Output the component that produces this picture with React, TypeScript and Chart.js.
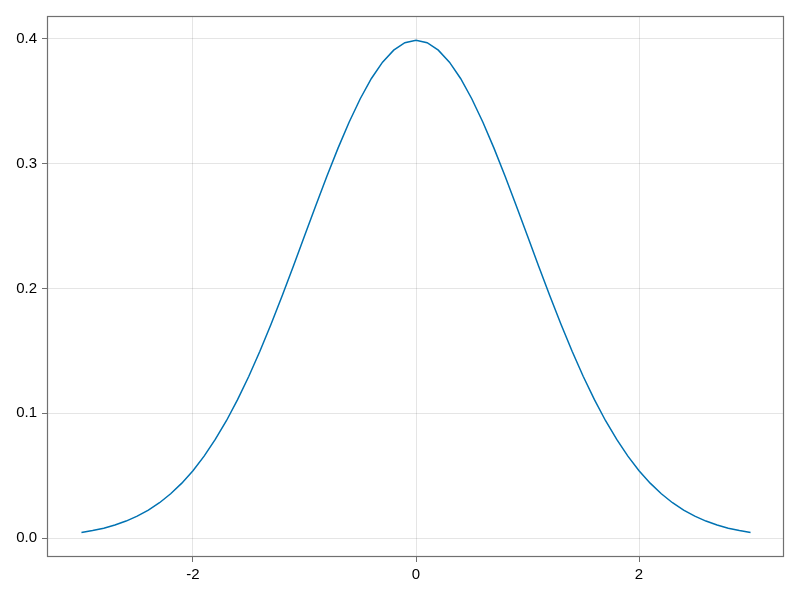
import React, { useEffect, useRef } from "react";
import { Chart, registerables } from "chart.js";

Chart.register(...registerables);

const xValues = [
  -3.0, -2.9, -2.8, -2.7, -2.6, -2.5, -2.4, -2.3, -2.2, -2.1,
  -2.0, -1.9, -1.8, -1.7, -1.6, -1.5, -1.4, -1.3, -1.2, -1.1,
  -1.0, -0.9, -0.8, -0.7, -0.6, -0.5, -0.4, -0.3, -0.2, -0.1,
  0.0,
  0.1, 0.2, 0.3, 0.4, 0.5, 0.6, 0.7, 0.8, 0.9, 1.0,
  1.1, 1.2, 1.3, 1.4, 1.5, 1.6, 1.7, 1.8, 1.9, 2.0,
  2.1, 2.2, 2.3, 2.4, 2.5, 2.6, 2.7, 2.8, 2.9, 3.0,
];

const yValues = [
  0.0044, 0.006, 0.0079, 0.0104, 0.0136, 0.0175, 0.0224, 0.0283, 0.0355, 0.044,
  0.054, 0.0656, 0.079, 0.094, 0.1109, 0.1295, 0.1497, 0.1714, 0.1942, 0.2179,
  0.242, 0.2661, 0.2897, 0.3123, 0.3332, 0.3521, 0.3683, 0.3814, 0.391, 0.397,
  0.3989,
  0.397, 0.391, 0.3814, 0.3683, 0.3521, 0.3332, 0.3123, 0.2897, 0.2661, 0.242,
  0.2179, 0.1942, 0.1714, 0.1497, 0.1295, 0.1109, 0.094, 0.079, 0.0656, 0.054,
  0.044, 0.0355, 0.0283, 0.0224, 0.0175, 0.0136, 0.0104, 0.0079, 0.006, 0.0044,
];

const xTicks = [-2, 0, 2];
const xTickLabels = ["-2", "0", "2"];
const yTicks = [0, 0.1, 0.2, 0.3, 0.4];
const yTickLabels = ["0.0", "0.1", "0.2", "0.3", "0.4"];

const FONT = { family: "'Liberation Sans', Arial, Helvetica, sans-serif", size: 15 };
const FRAME = "#707070";
const GRID = "rgba(0,0,0,0.1)";

const framePlugin = {
  id: "frame",
  afterDraw(chart: any) {
    const { ctx, chartArea } = chart;
    ctx.save();
    ctx.strokeStyle = FRAME;
    ctx.lineWidth = 1.2;
    ctx.strokeRect(
      Math.round(chartArea.left) - 0.5,
      Math.round(chartArea.top) + 0.5,
      Math.round(chartArea.right - chartArea.left),
      Math.round(chartArea.bottom - chartArea.top)
    );
    ctx.restore();
  },
};

export default function App() {
  const ref = useRef<HTMLCanvasElement | null>(null);

  useEffect(() => {
    if (!ref.current) return;
    const chart = new Chart(ref.current, {
      type: "line",
      data: {
        datasets: [
          {
            data: xValues.map((x, i) => ({ x, y: yValues[i] })),
            borderColor: "rgb(0,114,178)",
            borderWidth: 1.5,
            pointRadius: 0,
            tension: 0,
            fill: false,
          },
        ],
      },
      options: {
        responsive: false,
        animation: false,
        layout: { padding: { top: 16, right: 16, left: 0, bottom: 0 } },
        plugins: { legend: { display: false }, tooltip: { enabled: false } },
        scales: {
          x: {
            type: "linear",
            min: -3.3,
            max: 3.3,
            afterBuildTicks: (axis: any) => {
              axis.ticks = xTicks.map((v) => ({ value: v }));
            },
            afterFit: (axis: any) => {
              axis.height = 44;
            },
            ticks: {
              font: FONT,
              color: "#000",
              padding: 4,
              maxRotation: 0,
              callback: (v: any) => {
                const i = xTicks.indexOf(Number(v));
                return i >= 0 ? xTickLabels[i] : "";
              },
            },
            grid: { color: GRID, tickColor: FRAME, tickLength: 6, lineWidth: 1 },
            border: { display: false },
          },
          y: {
            type: "linear",
            min: -0.0144,
            max: 0.4184,
            afterBuildTicks: (axis: any) => {
              axis.ticks = yTicks.map((v) => ({ value: v }));
            },
            afterFit: (axis: any) => {
              axis.width = 48;
            },
            ticks: {
              font: FONT,
              color: "#000",
              padding: 5,
              callback: (v: any) => {
                const i = yTicks.findIndex((t) => Math.abs(t - Number(v)) < 1e-9);
                return i >= 0 ? yTickLabels[i] : "";
              },
            },
            grid: { color: GRID, tickColor: FRAME, tickLength: 6, lineWidth: 1 },
            border: { display: false },
          },
        },
      },
      plugins: [framePlugin],
    });
    return () => chart.destroy();
  }, []);

  return (
    <div style={{ position: "fixed", left: 0, top: 0, width: 800, height: 600, background: "#fff" }}>
      <canvas ref={ref} width={800} height={600} style={{ display: "block" }} />
    </div>
  );
}
